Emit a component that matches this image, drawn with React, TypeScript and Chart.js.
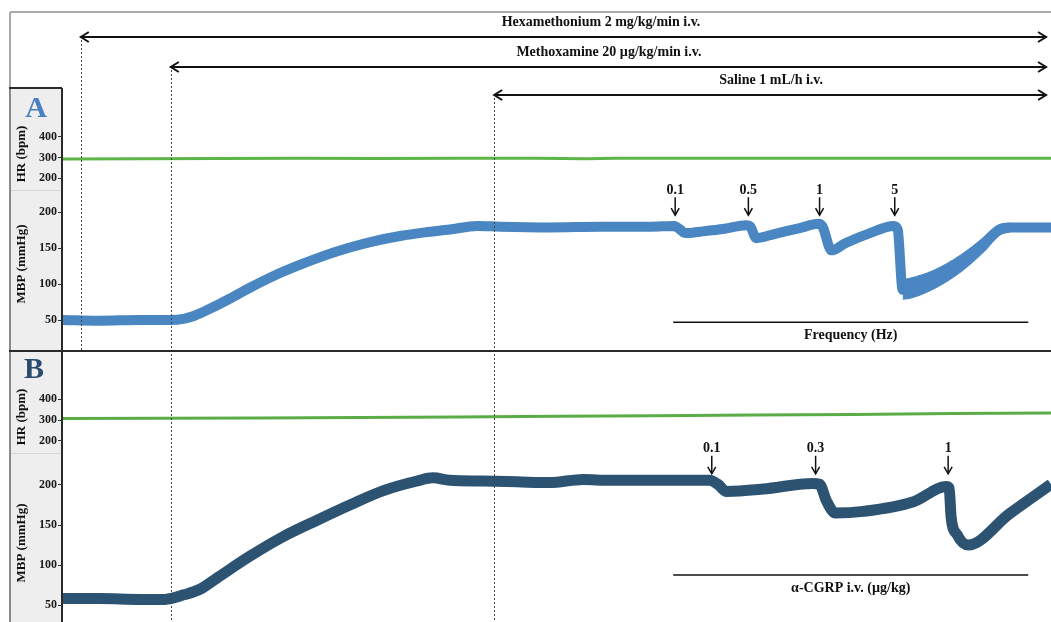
import React, { useEffect, useRef } from "react";
import { Chart, registerables } from "chart.js";

Chart.register(...registerables);

// ---------------- data (time in minutes, x axis hidden) ----------------
const hrATime = [0, 8, 16, 24, 32, 40, 48, 53, 56, 64, 72, 80, 88, 100];
const hrA = [293, 294, 295, 296, 295, 296, 296, 294, 296, 296, 296, 296, 296, 296];

const mbpATime = [0, 3.8, 7.9, 10.9, 12.4, 13.4, 15.0, 17.0, 19.0, 21.5, 24.1, 26.6, 29.1, 31.6, 34.2, 36.7, 39.2, 42.0, 44.3, 49.3, 54.4, 59.5, 61.9, 62.5, 63.0, 64.5, 67.0, 69.2, 69.6, 70.2, 72.1, 74.6, 76.5, 76.9, 77.8, 79.2, 81.7, 84.1, 84.5, 85.0, 85.7, 88.1, 90.8, 93.3, 94.8, 95.9, 100];
const mbpA = [50, 49, 50, 50, 52, 56, 66, 80, 95, 112, 127, 140, 151, 160, 167, 172, 176, 181, 180, 179, 180, 180, 181, 176, 171, 173, 177, 182, 180, 164, 170, 178, 184, 180, 147, 157, 171, 181, 176, 92, 95, 107, 129, 158, 176, 179, 179];

// widened pressure band after the 5 Hz stimulation (upper / lower envelope)
const recoveryATime = [85.0, 85.7, 88.1, 90.8, 93.3, 94.8, 95.9];
const recoveryAHigh = [106, 108, 119, 140, 166, 183, 185];
const recoveryALow = [79, 80, 93, 116, 146, 168, 173];

const hrBTime = [0, 10, 20, 30, 40, 50, 60, 70, 80, 90, 100];
const hrB = [307, 308, 310, 312, 315, 318, 321, 324, 327, 331, 334];

const mbpBTime = [0, 3.8, 7.9, 10.4, 12.4, 14.0, 15.7, 19.0, 22.3, 25.8, 29.1, 32.5, 35.9, 37.5, 39.2, 42.6, 46.0, 49.3, 52.7, 54.4, 58.4, 62.5, 65.5, 66.3, 67.2, 70.9, 75.9, 76.6, 77.3, 78.2, 81.0, 86.1, 89.4, 89.7, 89.9, 90.5, 91.6, 95.8, 100];
const mbpB = [58, 58, 57, 57, 63, 70, 84, 111, 135, 156, 175, 193, 205, 209, 206, 205, 204, 203, 207, 206, 206, 206, 206, 201, 192, 195, 202, 201, 180, 165, 167, 179, 198, 196, 160, 138, 125, 164, 201];

const hrTicks = [200, 300, 400];
const mbpTicks = [50, 100, 150, 200];

const drugLabels = ["Hexamethonium 2 mg/kg/min i.v.", "Methoxamine 20 µg/kg/min i.v.", "Saline 1 mL/h i.v."];
const drugStart = [1.9, 11.0, 43.7];
const drugEnd = [99.5, 99.5, 99.5];
const drugLabelTime = [54.5, 55.3, 71.7];

const freqLabels = ["0.1", "0.5", "1", "5"];
const freqTimes = [62.0, 69.4, 76.6, 84.2];
const doseLabels = ["0.1", "0.3", "1"];
const doseTimes = [65.7, 76.2, 89.6];
const stimBar = [61.8, 97.7];

// ---------------- layout (pixels) ----------------
const W = 1051;
const H = 622;
const AREA_TOP = 88;
const AREA_LEFT = 62;
const FRAME_LEFT = 10;
const FRAME_TOP = 12;
const PANEL_SPLIT = 351;
const SIDE_SPLIT_A = 190;
const SIDE_SPLIT_B = 453;
const DRUG_Y = [37, 67, 95];
const FONT = '"Liberation Serif", "Times New Roman", serif';
const COLOR_A = "#4a86c1";
const COLOR_B = "#2d5373";

// value/pixel anchors
const anchors: Record<string, number[]> = {
  hrA: [200, 178.3, 400, 136.7],
  mbpA: [50, 320, 200, 212.3],
  hrB: [200, 440.7, 400, 399.3],
  mbpB: [50, 605, 200, 485],
};
const Y_IDS = ["hrA", "mbpA", "hrB", "mbpB"];

function yScale(anchor: number[], ticks: number[]) {
  const [v1, p1, v2, p2] = anchor;
  const s = (p2 - p1) / (v2 - v1);
  return {
    type: "linear",
    position: "left",
    min: v1 + (H - p1) / s,
    max: v1 + (AREA_TOP - p1) / s,
    afterBuildTicks: (sc: any) => {
      sc.ticks = ticks.map((v) => ({ value: v }));
    },
    afterFit: (sc: any) => {
      sc.width = 0;
      sc.paddingTop = 0;
      sc.paddingBottom = 0;
      sc.paddingLeft = 0;
      sc.paddingRight = 0;
    },
    border: { display: false },
    grid: { drawOnChartArea: false, drawTicks: true, tickLength: 4, color: "#333", lineWidth: 1 },
    ticks: {
      font: { family: FONT, size: 12, weight: "bold" },
      color: "#1a1a1a",
      padding: 1,
      autoSkip: false,
      callback: (v: any) => String(v),
    },
  };
}

const toXY = (ts: number[], vs: number[]) => ts.map((t, i) => ({ x: t, y: vs[i] }));

function chevron(c: CanvasRenderingContext2D, x: number, y: number, dx: number, dy: number, len: number, spread: number) {
  const px = -dy, py = dx;
  c.beginPath();
  c.moveTo(x - dx * len + px * spread, y - dy * len + py * spread);
  c.lineTo(x, y);
  c.lineTo(x - dx * len - px * spread, y - dy * len - py * spread);
  c.stroke();
}

const overlay = {
  id: "overlay",
  afterLayout(chart: any) {
    // let the (zero-width) y axes draw their labels inside the side bar
    Y_IDS.forEach((id) => {
      const sc = chart.scales[id];
      if (sc) sc.left = 0;
    });
  },
  beforeDraw(chart: any) {
    const c: CanvasRenderingContext2D = chart.ctx;
    c.save();
    c.fillStyle = "#ffffff";
    c.fillRect(0, 0, chart.width, chart.height);
    c.strokeStyle = "#a9a9a9";
    c.lineWidth = 2;
    c.beginPath();
    c.moveTo(FRAME_LEFT, FRAME_TOP);
    c.lineTo(chart.width, FRAME_TOP);
    c.moveTo(FRAME_LEFT, FRAME_TOP);
    c.lineTo(FRAME_LEFT, AREA_TOP);
    c.stroke();
    c.fillStyle = "#eeeeee";
    c.fillRect(FRAME_LEFT, AREA_TOP, AREA_LEFT - FRAME_LEFT, chart.height - AREA_TOP);
    c.strokeStyle = "#d6d6d6";
    c.lineWidth = 1;
    c.beginPath();
    c.moveTo(FRAME_LEFT, SIDE_SPLIT_A + 0.5);
    c.lineTo(AREA_LEFT, SIDE_SPLIT_A + 0.5);
    c.moveTo(FRAME_LEFT, SIDE_SPLIT_B + 0.5);
    c.lineTo(AREA_LEFT, SIDE_SPLIT_B + 0.5);
    c.stroke();
    c.strokeStyle = "#666";
    c.lineWidth = 1.5;
    c.beginPath();
    c.moveTo(FRAME_LEFT, AREA_TOP);
    c.lineTo(FRAME_LEFT, chart.height);
    c.stroke();

    c.font = `bold 30px ${FONT}`;
    c.textAlign = "center";
    c.textBaseline = "alphabetic";
    c.fillStyle = "#4a80c2";
    c.fillText("A", 36, 117);
    c.fillStyle = "#2b4b6e";
    c.fillText("B", 34, 378);

    c.fillStyle = "#111";
    c.font = `bold 13px ${FONT}`;
    c.textBaseline = "middle";
    const titles: [string, number][] = [
      ["HR (bpm)", 154],
      ["MBP (mmHg)", 264],
      ["HR (bpm)", 417],
      ["MBP (mmHg)", 543],
    ];
    titles.forEach(([t, y]) => {
      c.save();
      c.translate(22, y);
      c.rotate(-Math.PI / 2);
      c.fillText(t, 0, 0);
      c.restore();
    });
    c.restore();
  },
  afterDraw(chart: any) {
    const c: CanvasRenderingContext2D = chart.ctx;
    const xs = chart.scales.x;
    const ya = chart.scales.mbpA;
    const yb = chart.scales.mbpB;
    c.save();

    c.strokeStyle = "#444";
    c.lineWidth = 1;
    c.setLineDash([2, 2]);
    drugStart.forEach((t, i) => {
      const x = Math.round(xs.getPixelForValue(t)) + 0.5;
      c.beginPath();
      c.moveTo(x, DRUG_Y[i] + 3);
      c.lineTo(x, i === 0 ? PANEL_SPLIT : chart.height);
      c.stroke();
    });
    c.setLineDash([]);

    c.strokeStyle = "#2a2a2a";
    c.lineWidth = 2;
    c.beginPath();
    c.moveTo(FRAME_LEFT - 1, AREA_TOP);
    c.lineTo(AREA_LEFT, AREA_TOP);
    c.moveTo(AREA_LEFT, AREA_TOP);
    c.lineTo(AREA_LEFT, chart.height);
    c.moveTo(FRAME_LEFT - 1, PANEL_SPLIT);
    c.lineTo(chart.width, PANEL_SPLIT);
    c.stroke();

    c.strokeStyle = "#111";
    c.fillStyle = "#111";
    c.lineWidth = 2;
    c.font = `bold 14px ${FONT}`;
    c.textAlign = "center";
    c.textBaseline = "middle";
    drugLabels.forEach((lab, i) => {
      const x0 = xs.getPixelForValue(drugStart[i]);
      const x1 = xs.getPixelForValue(drugEnd[i]);
      const y = DRUG_Y[i];
      c.beginPath();
      c.moveTo(x0, y);
      c.lineTo(x1, y);
      c.stroke();
      chevron(c, x0, y, -1, 0, 8, 5);
      chevron(c, x1, y, 1, 0, 8, 5);
      c.fillText(lab, xs.getPixelForValue(drugLabelTime[i]), y - 15);
    });

    const markers = (labels: string[], times: number[], tipY: number) => {
      labels.forEach((lab, i) => {
        const x = xs.getPixelForValue(times[i]);
        c.lineWidth = 1.5;
        c.beginPath();
        c.moveTo(x, tipY - 18);
        c.lineTo(x, tipY);
        c.stroke();
        chevron(c, x, tipY, 0, 1, 7, 4);
        c.fillText(lab, x, tipY - 25);
      });
    };
    markers(freqLabels, freqTimes, ya.getPixelForValue(196));
    markers(doseLabels, doseTimes, yb.getPixelForValue(214));

    const bar = (y: number, label: string) => {
      const x0 = xs.getPixelForValue(stimBar[0]);
      const x1 = xs.getPixelForValue(stimBar[1]);
      c.lineWidth = 1.5;
      c.beginPath();
      c.moveTo(x0, y);
      c.lineTo(x1, y);
      c.stroke();
      c.fillText(label, (x0 + x1) / 2, y + 13);
    };
    bar(ya.getPixelForValue(47), "Frequency (Hz)");
    bar(yb.getPixelForValue(87.5), "α-CGRP i.v. (µg/kg)");

    c.restore();
  },
};

export default function App() {
  const ref = useRef<HTMLCanvasElement>(null);
  useEffect(() => {
    const canvas = ref.current;
    if (!canvas) return;
    const chart = new Chart(canvas, {
      type: "line",
      data: {
        datasets: [
          {
            label: "HR A",
            data: toXY(hrATime, hrA),
            yAxisID: "hrA",
            borderColor: "#5db548",
            borderWidth: 3,
            pointRadius: 0,
          },
          {
            label: "MBP A recovery high",
            data: toXY(recoveryATime, recoveryAHigh),
            yAxisID: "mbpA",
            borderColor: COLOR_A,
            backgroundColor: COLOR_A,
            borderWidth: 1,
            pointRadius: 0,
            fill: "+1",
            cubicInterpolationMode: "monotone",
          },
          {
            label: "MBP A recovery low",
            data: toXY(recoveryATime, recoveryALow),
            yAxisID: "mbpA",
            borderColor: COLOR_A,
            borderWidth: 1,
            pointRadius: 0,
            cubicInterpolationMode: "monotone",
          },
          {
            label: "MBP A",
            data: toXY(mbpATime, mbpA),
            yAxisID: "mbpA",
            borderColor: COLOR_A,
            borderWidth: 10,
            pointRadius: 0,
            cubicInterpolationMode: "monotone",
            borderCapStyle: "butt",
            borderJoinStyle: "round",
          },
          {
            label: "HR B",
            data: toXY(hrBTime, hrB),
            yAxisID: "hrB",
            borderColor: "#5aad46",
            borderWidth: 3,
            pointRadius: 0,
          },
          {
            label: "MBP B",
            data: toXY(mbpBTime, mbpB),
            yAxisID: "mbpB",
            borderColor: COLOR_B,
            borderWidth: 11,
            pointRadius: 0,
            cubicInterpolationMode: "monotone",
            borderCapStyle: "butt",
            borderJoinStyle: "round",
          },
        ],
      } as any,
      options: {
        responsive: false,
        animation: false,
        devicePixelRatio: 1,
        events: [],
        layout: { padding: { top: AREA_TOP, left: AREA_LEFT, right: 0, bottom: 0 } },
        plugins: { legend: { display: false }, tooltip: { enabled: false }, filler: { propagate: false } },
        scales: {
          x: { type: "linear", min: 0, max: 100, display: false },
          hrA: yScale(anchors.hrA, hrTicks),
          mbpA: yScale(anchors.mbpA, mbpTicks),
          hrB: yScale(anchors.hrB, hrTicks),
          mbpB: yScale(anchors.mbpB, mbpTicks),
        } as any,
      },
      plugins: [overlay],
    } as any);
    return () => chart.destroy();
  }, []);
  return (
    <div style={{ position: "fixed", left: 0, top: 0, width: W, height: H, background: "#fff" }}>
      <canvas ref={ref} width={W} height={H} style={{ display: "block", width: W, height: H }} />
    </div>
  );
}
